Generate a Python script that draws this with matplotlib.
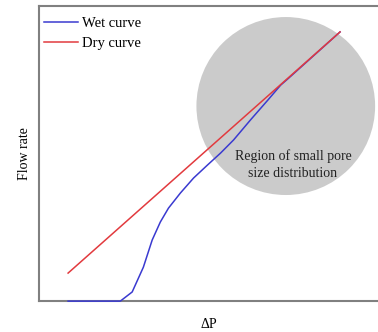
import matplotlib
matplotlib.use("Agg")
import matplotlib.pyplot as plt
from matplotlib.patches import Ellipse

plt.rcParams["font.family"] = ["Liberation Serif", "DejaVu Serif"]

# Wet curve (arbitrary units)
wet_dp = [0.86, 2.40, 2.75, 3.08, 3.34, 3.58, 3.82, 4.17, 4.56, 4.97, 5.36,
          5.74, 6.24, 6.75, 7.13, 7.34, 8.88]
wet_flow = [0.00, 0.00, 0.31, 1.15, 2.07, 2.68, 3.15, 3.66, 4.17, 4.61, 5.02,
            5.46, 6.14, 6.81, 7.32, 7.53, 9.12]

# Dry curve (straight line)
dry_dp = [0.86, 8.88]
dry_flow = [0.95, 9.12]

# Highlighted region
region_center = (7.28, 6.61)
region_w, region_h = 5.27, 6.03
region_label = "Region of small pore\nsize distribution"
label_pos = (7.49, 4.62)

fig = plt.figure(figsize=(3.78, 3.32), dpi=100)
ax = fig.add_axes([0.103, 0.093, 0.897, 0.889])

ax.add_patch(Ellipse(region_center, region_w, region_h, color="#cbcbcb",
                     linewidth=0, zorder=1))
ax.plot(wet_dp, wet_flow, color="#3a3ad0", linewidth=1.1, label="Wet curve",
        zorder=3, clip_on=False)
ax.plot(dry_dp, dry_flow, color="#e23a3e", linewidth=1.1, label="Dry curve",
        zorder=4)
ax.text(label_pos[0], label_pos[1], region_label, ha="center", va="center",
        fontsize=10, color="#222222", zorder=5, linespacing=1.35)

ax.set_xlim(0, 10)
ax.set_ylim(0, 10)
ax.set_xticks([])
ax.set_yticks([])
for side in ["left", "top", "bottom"]:
    ax.spines[side].set_color("#808080")
    ax.spines[side].set_linewidth(1.5)
ax.spines["right"].set_visible(False)

ax.set_xlabel("ΔP", fontsize=10, labelpad=12)
ax.set_ylabel("Flow rate", fontsize=10, labelpad=6)

ax.legend(loc="upper left", bbox_to_anchor=(-0.016, 1.0), frameon=False,
          fontsize=10.5, handlelength=2.3, handletextpad=0.3,
          labelspacing=0.45, borderaxespad=0.45, borderpad=0.3)

fig.savefig("out.png", dpi=100)
